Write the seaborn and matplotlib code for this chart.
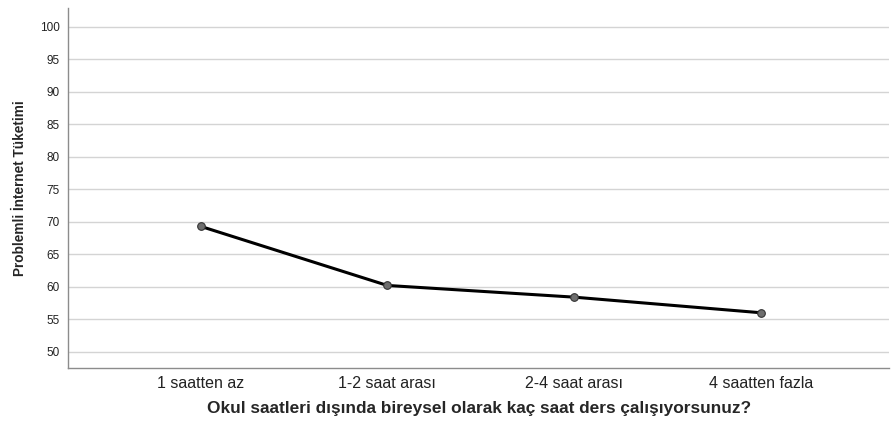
import numpy as np
import pandas as pd
import seaborn as sns
import matplotlib.pyplot as plt

# data
kategoriler = ['1 saatten az', '1-2 saat arası', '2-4 saat arası', '4 saatten fazla']
ortalamalar = [69.3, 60.2, 58.4, 56.0]
y_ticks = [50, 55, 60, 65, 70, 75, 80, 85, 90, 95, 100]

df = pd.DataFrame({'kategori': kategoriler, 'ortalama': ortalamalar})
df['pos'] = np.arange(len(df))

sns.set_style("white")
plt.rcParams['font.family'] = ['Liberation Sans', 'DejaVu Sans']

fig = plt.figure(figsize=(8.91, 4.21), dpi=100)
ax = fig.add_axes([0.0763, 0.126, 0.922, 0.855])

sns.lineplot(data=df, x='pos', y='ortalama', ax=ax, color='black', linewidth=2.2,
             marker='o', markersize=5.5, markerfacecolor='#6e6e6e',
             markeredgecolor='#333333', markeredgewidth=0.8, zorder=3)

ax.set_xlim(-0.71, 3.69)
ax.set_ylim(47.5, 102.9)
ax.set_yticks(y_ticks)
ax.set_yticklabels([str(t) for t in y_ticks], fontsize=8.5, color='#222222')
ax.set_xticks(df['pos'])
ax.set_xticklabels(kategoriler, fontsize=11.5, color='#222222')
ax.tick_params(axis='x', length=0, pad=6)
ax.tick_params(axis='y', length=0, pad=6)

ax.yaxis.grid(True, color='#d4d4d4', linewidth=1)
ax.xaxis.grid(False)
ax.set_axisbelow(True)

for s in ['top', 'right']:
    ax.spines[s].set_visible(False)
for s in ['left', 'bottom']:
    ax.spines[s].set_color('#8c8c8c')
    ax.spines[s].set_linewidth(1)

ax.set_xlabel('Okul saatleri dışında bireysel olarak kaç saat ders çalışıyorsunuz?',
              fontsize=12.4, fontweight='bold', labelpad=7)
ax.set_ylabel('Problemli İnternet Tüketimi', fontsize=9.8,
              family=['Liberation Sans Narrow', 'Liberation Sans', 'DejaVu Sans'],
              fontweight='bold', labelpad=9)

plt.savefig('out.png', dpi=100)
